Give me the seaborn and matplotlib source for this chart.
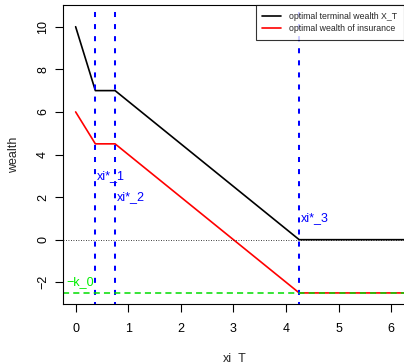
import matplotlib
matplotlib.use("Agg")
import matplotlib.pyplot as plt
import seaborn as sns
import pandas as pd

# data
xi_T = [0.0, 0.375, 0.75, 4.25, 6.5]
terminal_wealth = [10.0, 7.0, 7.0, 0.0, 0.0]
insurance_wealth = [6.0, 4.5, 4.5, -2.5, -2.5]
xi_star = [0.375, 0.75, 4.25]
xi_labels = ["xi*_1", "xi*_2", "xi*_3"]
xi_label_y = [3, 2, 1]
k0 = 2.5
x_ticks = [0, 1, 2, 3, 4, 5, 6]
y_ticks = [-2, 0, 2, 4, 6, 8, 10]

sns.set_style("white")
plt.rcParams['font.family'] = ['Liberation Sans', 'DejaVu Sans']

fig = plt.figure(figsize=(4.04, 3.63), dpi=100)
ax = fig.add_axes([63/404, 59/363, 343/404, 299/363])

df = pd.DataFrame({"xi_T": xi_T, "terminal": terminal_wealth, "insurance": insurance_wealth})
sns.lineplot(data=df, x="xi_T", y="terminal", color="black", lw=1.2, ax=ax,
             label="optimal terminal wealth X_T", sort=False)
sns.lineplot(data=df, x="xi_T", y="insurance", color="#ff0000", lw=1.2, ax=ax,
             label="optimal wealth of insurance", sort=False)

for xv, lab, yv in zip(xi_star, xi_labels, xi_label_y):
    ax.axvline(xv, color="#0000ff", lw=1.45, ls=(1.5, (2.5, 3.5)))
    ax.text(xv + 0.03, yv, lab, color="#0000ff", fontsize=9, ha="left", va="center")

ax.axhline(0, color="black", lw=0.6, ls=(0, (1, 2)))
ax.axhline(-k0, color="#00dd00", lw=1.1, ls=(0, (4, 2.7)))
ax.text(-0.17, -2, "\u2212k_0", color="#00ee00", fontsize=9, ha="left", va="center")

ax.set_xlim(-0.24, 6.28)
ax.set_ylim(-3.02, 11.02)
ax.set_xticks(x_ticks)
ax.set_yticks(y_ticks)
ax.set_yticklabels([str(v).replace("-", "\u2212") for v in y_ticks], rotation=90, va="center")
ax.set_xticklabels([str(v) for v in x_ticks])
ax.tick_params(axis="both", direction="out", length=6, width=0.8, labelsize=9,
               bottom=True, left=True, colors="black")
ax.tick_params(axis="x", pad=8)
ax.tick_params(axis="y", pad=4)
ax.set_xlabel("xi_T", fontsize=9, labelpad=12)
ax.set_ylabel("wealth", fontsize=9, labelpad=12)
for s in ax.spines.values():
    s.set_color("black")
    s.set_linewidth(0.8)

leg = ax.legend(loc="upper right", fontsize=6.3, frameon=True, fancybox=False, edgecolor="black",
                borderpad=0.76, handlelength=2.1, handletextpad=0.9, labelspacing=0.37,
                borderaxespad=0)
leg.get_frame().set_linewidth(0.8)
leg.set_bbox_to_anchor((403.5/404, 358/363), transform=fig.transFigure)

fig.savefig("out.png", dpi=100)
